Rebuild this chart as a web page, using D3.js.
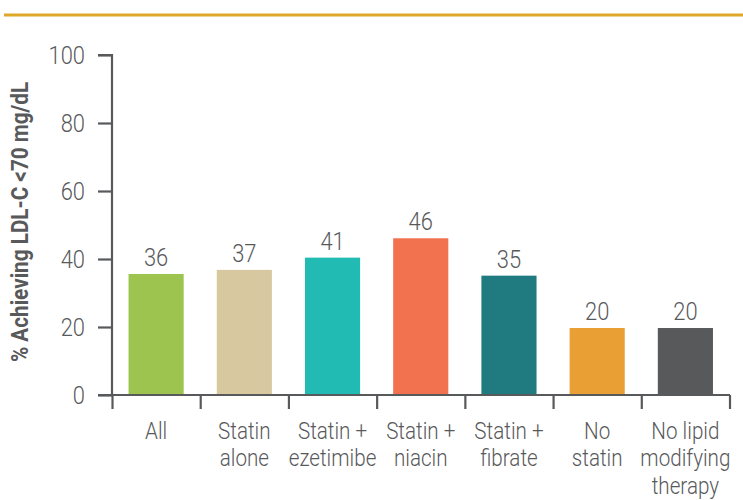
<!DOCTYPE html>
<html><head><meta charset="utf-8">
<script src="https://cdn.jsdelivr.net/npm/d3@7"></script>
<style>
body{margin:0;background:#fff;}
svg{display:block;font-family:Roboto,"Liberation Sans",sans-serif;}
</style></head>
<body><svg id="c" width="743" height="500"></svg>
<script>
const categories = [["All"],["Statin","alone"],["Statin +","ezetimibe"],["Statin +","niacin"],["Statin +","fibrate"],["No","statin"],["No lipid","modifying","therapy"]];
const values = [35.6, 36.8, 40.4, 46.1, 35.1, 19.7, 19.7];
const valueLabels = ["36","37","41","46","35","20","20"];
const colors = ["#9DC44F","#D8C8A0","#21BBB3","#F2714E","#1F7B80","#EA9F34","#58595B"];
const yTicks = [0,20,40,60,80,100];

const svg = d3.select("#c");
const ink = "#58595B";
const sx = 0.86; // horizontal condensing to mimic a condensed face

svg.append("line").attr("x1",4).attr("x2",743).attr("y1",15).attr("y2",15)
  .attr("stroke","#E0A82A").attr("stroke-width",3);

const x = d3.scaleBand().domain(d3.range(categories.length)).range([112,729.5]).paddingInner(0.375).paddingOuter(0.1875);
const y = d3.scaleLinear().domain([0,100]).range([395,55]);

svg.selectAll("rect.bar").data(values).join("rect").attr("class","bar")
  .attr("x",(d,i)=>x(i)).attr("width",x.bandwidth())
  .attr("y",d=>y(d)).attr("height",d=>y(0)-y(d))
  .attr("fill",(d,i)=>colors[i]);

function condText(parent, cx, cy){
  return parent.append("g").attr("transform",`translate(${cx},${cy}) scale(${sx},1)`)
    .append("text").attr("x",0).attr("y",0);
}

values.forEach((d,i)=>{
  condText(svg, x(i)+x.bandwidth()/2, y(d)-8)
    .attr("text-anchor","middle").attr("font-size",25.5).attr("font-weight",300).attr("fill",ink)
    .text(valueLabels[i]);
});

// y axis
const yAxis = svg.append("g").attr("transform","translate(112,0)")
  .call(d3.axisLeft(y).tickValues(yTicks).tickSize(14).tickPadding(8));
yAxis.select(".domain").attr("d","M-14,55H0V395").attr("stroke",ink).attr("stroke-width",2.2).attr("fill","none");
yAxis.selectAll(".tick line").attr("stroke",ink).attr("stroke-width",2.2);
yAxis.selectAll(".tick text").remove();
yTicks.forEach(v=>{
  condText(svg, 85, y(v)+9).attr("text-anchor","end").attr("font-size",25.5).attr("font-weight",300).attr("fill",ink).text(v);
});

// x axis
const xStep = x.step();
const xTickPos = d3.range(categories.length+1).map(i=>112+i*xStep);
const xs = d3.scaleLinear().domain([0,1]).range([0,1]);
const xAxis = svg.append("g").attr("transform","translate(0,395)")
  .call(d3.axisBottom(xs).tickValues(xTickPos).tickSize(14).tickFormat(""));
xAxis.select(".domain").attr("d","M98,0H730").attr("stroke",ink).attr("stroke-width",2.2);
xAxis.selectAll(".tick line").attr("stroke",ink).attr("stroke-width",2.2);

// category labels
categories.forEach((lines,i)=>{
  const t = condText(svg, x(i)+x.bandwidth()/2, 439)
    .attr("text-anchor","middle").attr("font-size",24).attr("font-weight",300).attr("fill",ink);
  lines.forEach((l,j)=>t.append("tspan").attr("x",0).attr("dy",j===0?0:27.5).text(l));
});

// y title
svg.append("g").attr("transform","translate(28,222) rotate(-90) scale(0.9,1)")
  .append("text").attr("text-anchor","middle").attr("font-size",23).attr("font-weight","bold").attr("fill",ink)
  .text("% Achieving LDL-C <70 mg/dL");
</script></body></html>
